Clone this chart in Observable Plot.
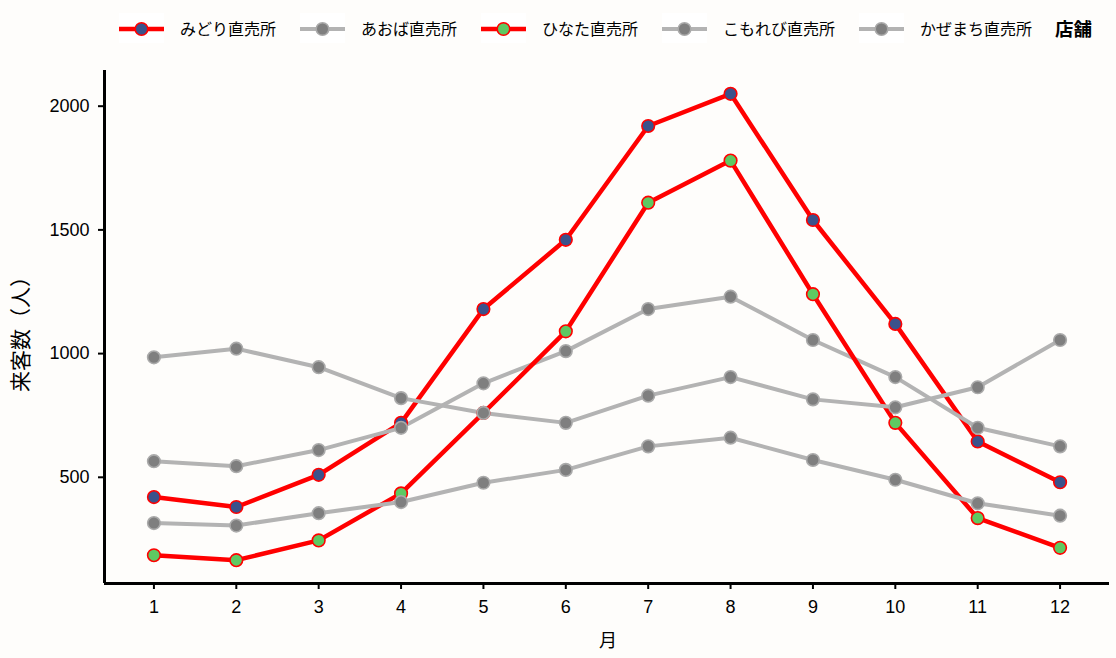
<!DOCTYPE html>
<html>
<head>
<meta charset="utf-8">
<script src="https://cdn.jsdelivr.net/npm/d3@7"></script>
<script src="https://cdn.jsdelivr.net/npm/@observablehq/plot@0.6"></script>
<style>
  html, body { margin: 0; padding: 0; background: #fefdfb; }
  #wrap { position: relative; width: 1116px; height: 658px; overflow: hidden; font-family: "Liberation Sans", Arial, sans-serif; }
  #chart { position: absolute; left: 0; top: 0; }
  #legend { position: absolute; left: 119px; top: 12px; height: 32px; display: flex; align-items: center;
            font-family: "Noto Sans CJK JP", sans-serif; font-size: 16px; color: #000; }
  .item { display: flex; align-items: center; margin-right: 24px; }
  .key { width: 45px; height: 30px; background: #ffffff; margin-right: 16px; display: block; }
  .ltitle { font-weight: bold; font-size: 18.5px; margin-left: -1px; }
  .ytitle { position: absolute; left: 19px; top: 329px; transform: translate(-50%, -50%) rotate(-90deg);
            font-family: "Noto Sans CJK JP", sans-serif; font-size: 21px; white-space: nowrap; color: #000; }
  .xtitle { position: absolute; left: 608px; top: 639px; transform: translate(-50%, -50%);
            font-family: "Noto Sans CJK JP", sans-serif; font-size: 18px; color: #000; }
</style>
</head>
<body>
<div id="wrap">
  <div id="chart"></div>
  <div id="legend"></div>
  <div class="ytitle">来客数（人）</div>
  <div class="xtitle">月</div>
</div>
<script>
// ---- data ----
const months = [1, 2, 3, 4, 5, 6, 7, 8, 9, 10, 11, 12];
const stores = ["みどり直売所", "あおば直売所", "ひなた直売所", "こもれび直売所", "かぜまち直売所"];
const midori    = [420, 380, 510, 720, 1180, 1460, 1920, 2050, 1540, 1120, 645, 480];
const aoba      = [565, 545, 610, 700, 880, 1010, 1180, 1230, 1055, 905, 700, 625];
const hinata    = [185, 165, 245, 435, 760, 1090, 1610, 1780, 1240, 720, 335, 215];
const komorebi  = [315, 305, 355, 400, 478, 530, 625, 660, 570, 490, 395, 345];
const kazemachi = [985, 1020, 945, 820, 760, 720, 830, 905, 815, 783, 864, 1055];
const yTicks = [500, 1000, 1500, 2000];
const legendTitle = "店舗";

const seriesValues = [midori, aoba, hinata, komorebi, kazemachi];
const highlighted = new Set(["みどり直売所", "ひなた直売所"]);
const fillColor = {
  "みどり直売所": "#3b528b",
  "ひなた直売所": "#5ec962",
  "あおば直売所": "#7f7f7f",
  "こもれび直売所": "#7f7f7f",
  "かぜまち直売所": "#7f7f7f"
};

const data = [];
stores.forEach((s, i) => {
  months.forEach((m, j) => data.push({ store: s, month: m, value: seriesValues[i][j], hi: highlighted.has(s) }));
});

// ggplot-like expansion
const allVals = data.map(d => d.value);
const vmin = d3.min(allVals), vmax = d3.max(allVals);
const pad = (vmax - vmin) * 0.05;
const yDomain = [vmin - pad, vmax + pad];
const xDomain = [months[0] - 0.6, months[months.length - 1] + 0.6];

const chart = Plot.plot({
  width: 1116,
  height: 658,
  marginLeft: 104,
  marginRight: 7,
  marginTop: 70,
  marginBottom: 75,
  style: { background: "transparent", color: "#000", fontFamily: "'Liberation Sans', Arial, sans-serif" },
  x: { domain: xDomain, label: null },
  y: { domain: yDomain, label: null },
  marks: [
    Plot.line(data, { x: "month", y: "value", z: "store", stroke: d => d.hi ? "#ff0000" : "#b3b3b3",
                      strokeWidth: d => d.hi ? 4.5 : 4, strokeLinejoin: "round", strokeLinecap: "butt" }),
    Plot.dot(data, { x: "month", y: "value", r: 6.3, fill: d => fillColor[d.store],
                     stroke: d => d.hi ? "#ff0000" : "#aaaaaa", strokeWidth: 1.6 }),
    Plot.ruleX([xDomain[0]], { stroke: "#000", strokeWidth: 3 }),
    Plot.ruleY([yDomain[0]], { stroke: "#000", strokeWidth: 3 }),
    Plot.axisX({ ticks: months, tickFormat: d => String(d), tickSize: 6, tickPadding: 11, fontSize: 18, strokeWidth: 2, label: null }),
    Plot.axisY({ ticks: yTicks, tickFormat: d => String(d), tickSize: 6, tickPadding: 9, fontSize: 18, strokeWidth: 2, label: null })
  ]
});
document.getElementById("chart").appendChild(chart);

// ---- legend ----
const legend = document.getElementById("legend");
const ns = "http://www.w3.org/2000/svg";
stores.forEach(s => {
  const item = document.createElement("div");
  item.className = "item";
  const svg = document.createElementNS(ns, "svg");
  svg.setAttribute("class", "key");
  svg.setAttribute("width", 45);
  svg.setAttribute("height", 30);
  const hi = highlighted.has(s);
  const ln = document.createElementNS(ns, "line");
  ln.setAttribute("x1", 0); ln.setAttribute("x2", 45); ln.setAttribute("y1", 16); ln.setAttribute("y2", 16);
  ln.setAttribute("stroke", hi ? "#ff0000" : "#b3b3b3"); ln.setAttribute("stroke-width", hi ? 4.5 : 4);
  svg.appendChild(ln);
  const c = document.createElementNS(ns, "circle");
  c.setAttribute("cx", 22.5); c.setAttribute("cy", 16); c.setAttribute("r", 6.3);
  c.setAttribute("fill", fillColor[s]); c.setAttribute("stroke", hi ? "#ff0000" : "#aaaaaa"); c.setAttribute("stroke-width", 1.6);
  svg.appendChild(c);
  item.appendChild(svg);
  const t = document.createElement("span");
  t.textContent = s;
  item.appendChild(t);
  legend.appendChild(item);
});
const lt = document.createElement("span");
lt.className = "ltitle";
lt.textContent = legendTitle;
legend.appendChild(lt);
</script>
</body>
</html>
